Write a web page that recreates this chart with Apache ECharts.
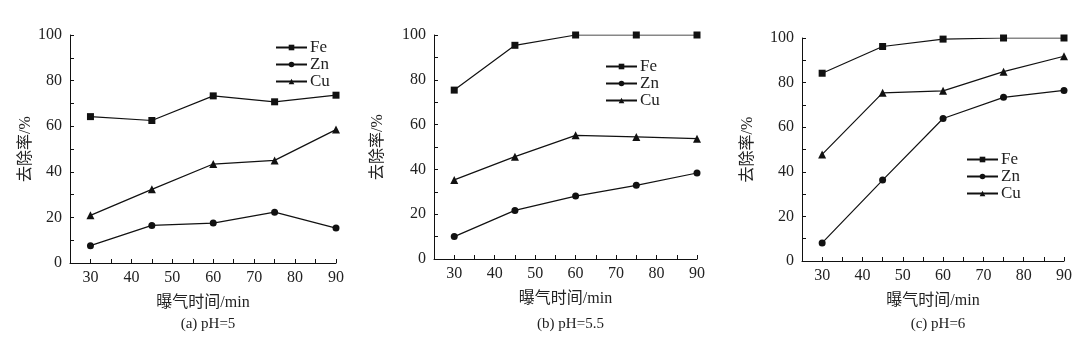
<!DOCTYPE html>
<html><head><meta charset="utf-8">
<script src="https://cdn.jsdelivr.net/npm/echarts@6/dist/echarts.min.js"></script>
<style>html,body{margin:0;padding:0;background:#fff}#c{width:1088px;height:358px}</style>
</head><body><div id="c"></div>
<script>
var times = [30, 45, 60, 75, 90];
var feA = [64.2, 62.5, 73.3, 70.7, 73.6];
var znA = [7.6, 16.5, 17.5, 22.3, 15.3];
var cuA = [20.9, 32.3, 43.4, 45.0, 58.5];
var feB = [75.4, 95.4, 100, 100, 100];
var znB = [10.0, 21.7, 28.1, 32.9, 38.4];
var cuB = [35.3, 45.7, 55.2, 54.5, 53.7];
var feC = [84.2, 96.2, 99.5, 100, 100];
var znC = [8.1, 36.3, 63.9, 73.4, 76.5];
var cuC = [47.8, 75.4, 76.3, 84.9, 91.8];
var names = ['Fe', 'Zn', 'Cu'];
var symbols = ['rect', 'circle', 'triangle'];
var captions = ['(a) pH=5', '(b) pH=5.5', '(c) pH=6'];
var xTitle = '曝气时间/min';
var yTitle = '去除率/%';

var panels = [[feA, znA, cuA], [feB, znB, cuB], [feC, znC, cuC]];
var grids = [
  {left: 70, top: 35, width: 266, height: 228},
  {left: 434, top: 35, width: 263, height: 224},
  {left: 802, top: 38, width: 262, height: 223}
];
var yGaps = [36, 48, 46];
var legendPos = [
  {left: 275, top: 39},
  {left: 605, top: 58},
  {left: 966, top: 151}
];
var serif = '"Liberation Serif", "Times New Roman", serif';
var cjk = '"Liberation Serif", "Noto Sans CJK SC", serif';
var axisLineStyle = {color: '#111', width: 1};

var option = {
  backgroundColor: '#fff',
  animation: false,
  grid: grids.map(function (g) { return Object.assign({containLabel: false}, g); }),
  xAxis: grids.map(function (g, i) {
    return {
      type: 'value', gridIndex: i, min: 25, max: 90, interval: 5,
      name: xTitle, nameLocation: 'middle', nameGap: 32,
      nameTextStyle: {fontFamily: cjk, fontSize: 16, color: '#222'},
      axisLine: {lineStyle: axisLineStyle},
      axisTick: {inside: true, length: 4, lineStyle: axisLineStyle},
      axisLabel: {fontFamily: serif, fontSize: 16, color: '#222', margin: 7,
        formatter: function (v) { return v % 10 === 0 && v > 25 ? String(v) : ''; }},
      splitLine: {show: false}
    };
  }),
  yAxis: grids.map(function (g, i) {
    return {
      type: 'value', gridIndex: i, min: 0, max: 100, interval: 10,
      name: yTitle, nameLocation: 'middle', nameGap: yGaps[i],
      nameTextStyle: {fontFamily: cjk, fontSize: 16, color: '#222'},
      axisLine: {show: true, lineStyle: axisLineStyle},
      axisTick: {show: true, inside: true, length: 4, lineStyle: axisLineStyle},
      axisLabel: {fontFamily: serif, fontSize: 16, color: '#222', margin: 8,
        formatter: function (v) { return v % 20 === 0 ? String(v) : ''; }},
      splitLine: {show: false}
    };
  }),
  legend: legendPos.map(function (p) {
    return {
      orient: 'vertical', left: p.left, top: p.top, data: names,
      itemWidth: 31, itemHeight: 7, itemGap: 0, padding: 0,
      textStyle: {fontFamily: serif, fontSize: 17, color: '#222', padding: [0, 0, 0, -2]},
      selectedMode: false
    };
  }),
  title: captions.map(function (t, i) {
    return {
      text: t, left: grids[i].left + grids[i].width / 2, top: 312, textAlign: 'center',
      textStyle: {fontFamily: cjk, fontSize: 15, fontWeight: 'normal', color: '#222'}
    };
  }),
  series: []
};

panels.forEach(function (p, i) {
  p.forEach(function (vals, k) {
    option.series.push({
      type: 'line', name: names[k], xAxisIndex: i, yAxisIndex: i,
      data: times.map(function (t, j) { return [t, vals[j]]; }),
      symbol: symbols[k], symbolSize: k === 2 ? 8 : 7,
      itemStyle: {color: '#111'},
      lineStyle: {color: '#111', width: 1.2}
    });
  });
});

var chart = echarts.init(document.getElementById('c'), null, {renderer: 'canvas'});
chart.setOption(option);
</script></body></html>
